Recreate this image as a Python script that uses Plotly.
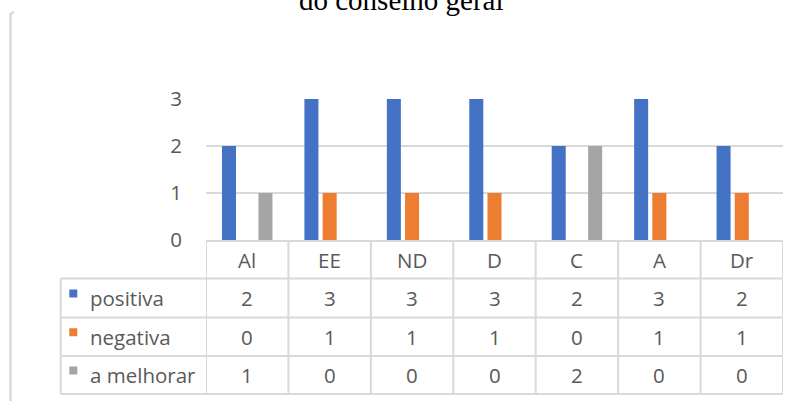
import plotly.graph_objects as go

categories = ["Al", "EE", "ND", "D", "C", "A", "Dr"]
series_names = ["positiva", "negativa", "a melhorar"]
positiva = [2, 3, 3, 3, 2, 3, 2]
negativa = [0, 1, 1, 1, 0, 1, 1]
a_melhorar = [1, 0, 0, 0, 2, 0, 0]
y_ticks = [0, 1, 2, 3]
title_text = "do conselho geral"

series_values = [positiva, negativa, a_melhorar]
colors = ["#4472C4", "#ED7D31", "#A5A5A5"]
TXT = "#595959"
GRID = "#d9d9d9"
FONT = "Open Sans"
FS = 20.5

W, H = 794, 401
ML, MR, MT, MB = 206, 11, 99, 161
PW = W - ML - MR
PH = H - MT - MB


def px(xpix):
    return (xpix - ML) / PW


def py(ypix):
    return (H - MB - ypix) / PH


fig = go.Figure()
for name, vals, col in zip(series_names, series_values, colors):
    fig.add_trace(go.Bar(x=categories, y=vals, name=name, marker=dict(color=col, line=dict(width=0)),
                         showlegend=False))

shapes = []
annotations = []

# table geometry (pixels)
row_edges = [241, 278.5, 317.5, 356, 394]
label_left = 60.7
lc = dict(color=GRID, width=2)

# horizontal lines
shapes.append(dict(type="line", xref="x", yref="paper", x0=-0.5, x1=len(categories) - 0.5,
                   y0=py(row_edges[0]), y1=py(row_edges[0]), line=lc))
for r in row_edges[1:]:
    shapes.append(dict(type="line", xref="paper", yref="paper", x0=px(label_left), x1=1,
                       y0=py(r), y1=py(r), line=lc))
# vertical lines
for i in range(len(categories) + 1):
    shapes.append(dict(type="line", xref="x", yref="paper", x0=i - 0.5, x1=i - 0.5,
                       y0=py(row_edges[0]), y1=py(row_edges[-1]), line=lc))
shapes.append(dict(type="line", xref="paper", yref="paper", x0=px(label_left), x1=px(label_left),
                   y0=py(row_edges[1]), y1=py(row_edges[-1]), line=lc))

# header row categories
hy = (row_edges[0] + row_edges[1]) / 2
for c in categories:
    annotations.append(dict(x=c, y=py(hy), xref="x", yref="paper", text=c, showarrow=False,
                            xanchor="center", yanchor="middle", font=dict(family=FONT, size=FS, color=TXT)))

# series rows
for k, (name, vals, col) in enumerate(zip(series_names, series_values, colors)):
    top, bot = row_edges[k + 1], row_edges[k + 2]
    cy = (top + bot) / 2
    shapes.append(dict(type="rect", xref="paper", yref="paper", x0=px(69.3), x1=px(77.3),
                       y0=py(cy - 8.5), y1=py(cy - 0.5), line=dict(width=0), fillcolor=col))
    annotations.append(dict(x=px(88), y=py(cy), xref="paper", yref="paper", text=name, showarrow=False,
                            xanchor="left", yanchor="middle", font=dict(family=FONT, size=FS, color=TXT)))
    for c, v in zip(categories, vals):
        annotations.append(dict(x=c, y=py(cy), xref="x", yref="paper", text=str(v), showarrow=False,
                                xanchor="center", yanchor="middle", font=dict(family=FONT, size=FS, color=TXT)))

# chart-area left border
shapes.append(dict(type="path", xref="paper", yref="paper",
                   path=f"M {px(10.5)},{py(H + 5)} L {px(10.5)},{py(14)} L {px(14)},{py(12)}",
                   line=dict(color=GRID, width=2.5)))

# title (cut off at top)
annotations.append(dict(x=px(401), y=py(0), xref="paper", yref="paper", text=title_text, showarrow=False,
                        xanchor="center", yanchor="middle",
                        font=dict(family="Liberation Serif", size=29, color="#000000")))

fig.update_layout(
    width=W, height=H,
    margin=dict(l=ML, r=MR, t=MT, b=MB, pad=0),
    paper_bgcolor="white", plot_bgcolor="white",
    barmode="group", bargap=0.337, bargroupgap=0.23,
    shapes=shapes, annotations=annotations,
    showlegend=False,
    xaxis=dict(type="category", range=[-0.5, len(categories) - 0.5], showticklabels=False,
               showgrid=False, showline=False, zeroline=False, ticks=""),
    yaxis=dict(range=[0, 3], tickvals=y_ticks, showgrid=True, gridcolor=GRID, gridwidth=1.5,
               zeroline=False, showline=False, ticks="", ticklabelstandoff=23,
               tickfont=dict(family=FONT, size=FS, color=TXT)),
)

fig.write_html("out.html")
